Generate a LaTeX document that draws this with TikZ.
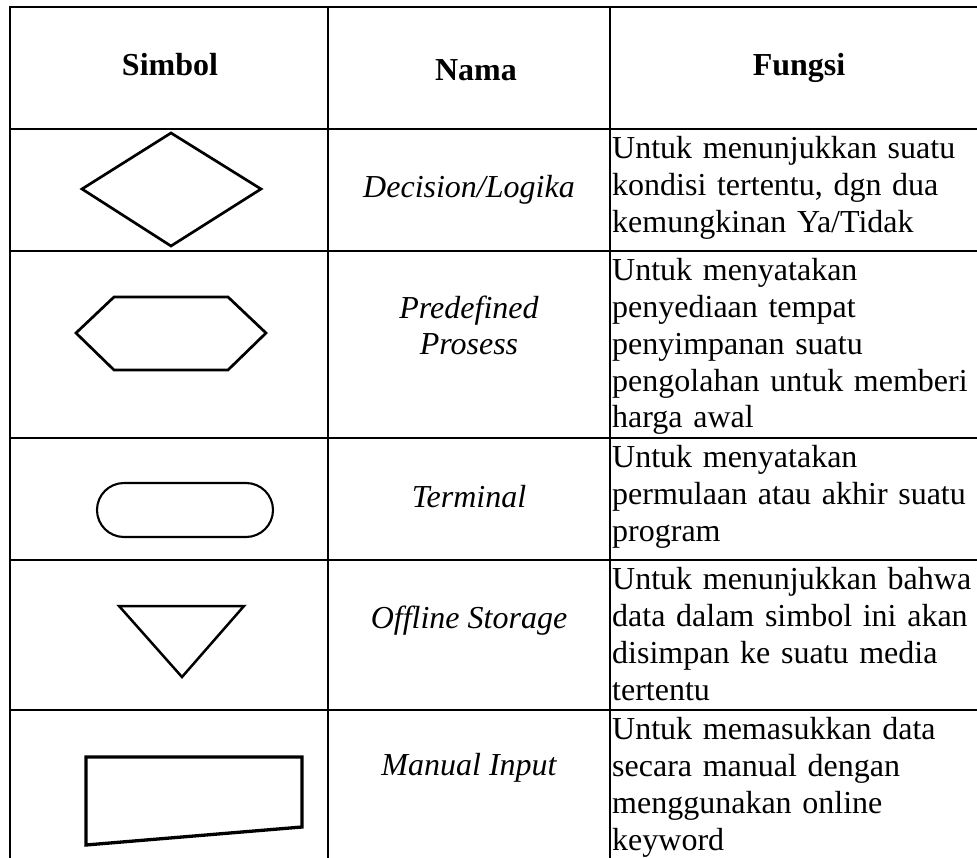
\documentclass[tikz,border=0pt]{standalone}
\usepackage{fontspec}
\setmainfont{Liberation Serif}
\begin{document}
\begin{tikzpicture}[x=1pt,y=-1pt]
\useasboundingbox (0,0) rectangle (977,858);
\tikzset{
  rule/.style={line width=2.4pt, line cap=rect},
  sym/.style={line width=2.7pt, line join=miter},
  headtext/.style={font=\fontsize{32}{36.8}\selectfont\bfseries, inner sep=0pt, anchor=base},
  nametext/.style={font=\fontsize{32}{36.8}\selectfont\itshape, inner sep=0pt, align=center},
  functext/.style={font=\fontsize{32}{36.8}\selectfont, inner sep=0pt, anchor=north west,
                   text width=360pt, align=left},
}
% table grid (open on the right and at the bottom)
\coordinate (tl) at (10,7);
\coordinate (c1) at (328,7);
\coordinate (c2) at (610,7);
\coordinate (tr) at (977,7);
\draw[rule] (tl) -- (tr);
\foreach \yy in {129,251,438,560,710} \draw[rule] (10,\yy) -- (977,\yy);
\foreach \xx in {10,328,610} \draw[rule] (\xx,7) -- (\xx,860);

% header
\node[headtext] (hsimbol) at (170,76) {Simbol};
\node[headtext] (hnama)   at (476,81) {Nama};
\node[headtext] (hfungsi) at (799,76) {Fungsi};

% symbols
\draw[sym] (171,133) -- (261,189) -- (171,246) -- (82,189) -- cycle;
\draw[sym] (114,297) -- (228,297) -- (266,333) -- (228,370) -- (114,370) -- (76,333) -- cycle;
\draw[line width=2.1pt, rounded corners=27pt] (97,483) rectangle (273,537);
\draw[line width=2.5pt, line join=miter] (119,606) -- (244,606) -- (182,677) -- cycle;
\draw[line width=3.3pt, line join=miter] (86,757) -- (302,757) -- (302,827) -- (86,845) -- cycle;

% names
\node[nametext, anchor=base] (n1) at (469,198) {Decision/Logika};
\node[nametext, anchor=north] (n2) at (469,318-25.76) {\strut Predefined\\\strut Prosess};
\node[nametext, anchor=base] (n3) at (469,507) {Terminal};
\node[nametext, anchor=base] (n4) at (469,628) {Offline Storage};
\node[nametext, anchor=base] (n5) at (469,775) {Manual Input};

% descriptions
\node[functext] (f1) at (612,158.5-25.76) {\strut Untuk menunjukkan suatu\\ kondisi tertentu, dgn dua\\ kemungkinan Ya/Tidak};
\node[functext] (f2) at (612,280.5-25.76) {\strut Untuk menyatakan\\ penyediaan tempat\\ penyimpanan suatu\\ pengolahan untuk memberi\\ harga awal};
\node[functext] (f3) at (612,467.5-25.76) {\strut Untuk menyatakan\\ permulaan atau akhir suatu\\ program};
\node[functext] (f4) at (612,589.5-25.76) {\strut Untuk menunjukkan bahwa\\ data dalam simbol ini akan\\ disimpan ke suatu media\\ tertentu};
\node[functext] (f5) at (612,739.5-25.76) {\strut Untuk memasukkan data\\ secara manual dengan\\ menggunakan online\\ keyword};
\end{tikzpicture}
\end{document}
